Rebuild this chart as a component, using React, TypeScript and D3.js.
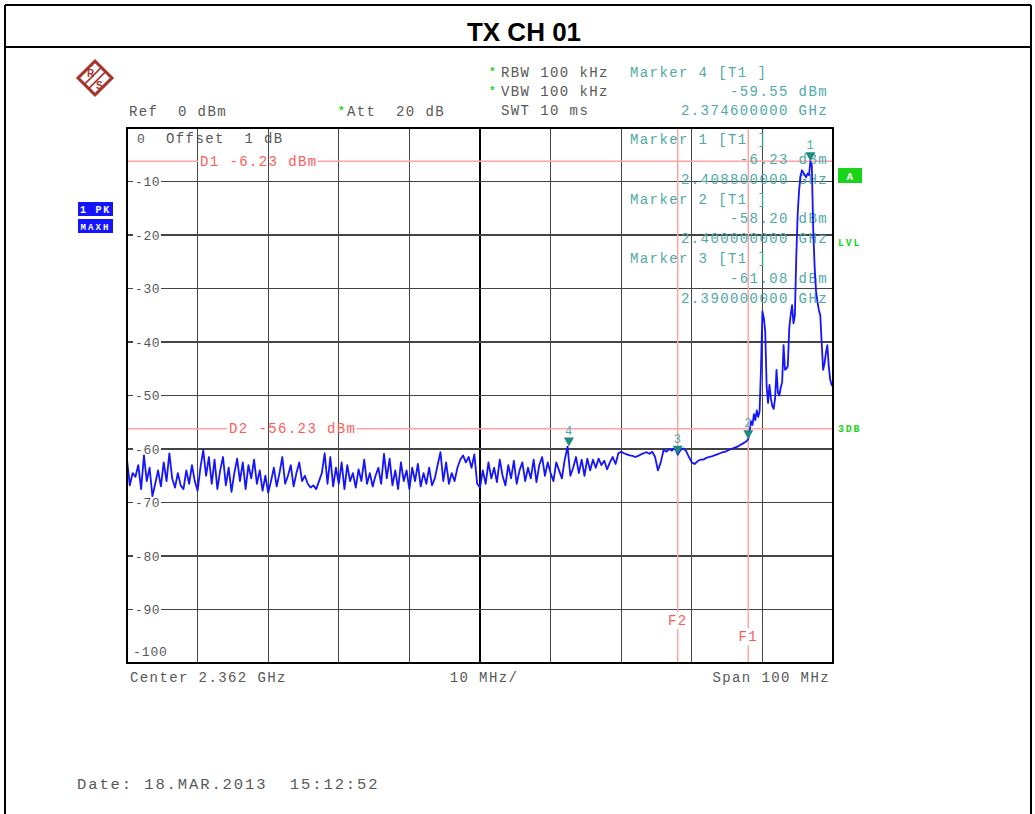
import * as d3 from "d3";

// spectrum analyzer settings
const startGHz = 2.312;
const stopGHz = 2.412;
const refDbm = 0;
const bottomDbm = -100;

// trace, noise floor part: 2.312 GHz start, 0.4 MHz step
const floorStartGHz = 2.312;
const floorStepGHz = 0.0004;
const floorLevels = [
  -62.0, -66.8, -64.5, -65.2, -63.0, -67.5, -61.2, -66.0, -63.5, -68.8,
  -66.5, -64.0, -67.0, -62.5, -66.0, -60.8, -65.5, -67.2, -64.5, -66.8,
  -67.5, -64.0, -66.5, -63.0, -66.0, -67.8, -63.5, -60.2, -65.0, -61.5,
  -66.5, -62.0, -67.5, -64.0, -61.5, -66.8, -63.5, -68.0, -64.5, -61.8,
  -66.0, -62.5, -67.5, -63.0, -65.5, -62.0, -66.5, -64.0, -67.8, -65.0,
  -68.2, -66.0, -63.5, -67.0, -64.5, -61.5, -66.5, -65.0, -63.0, -67.0,
  -64.5, -62.5, -66.0, -65.0, -66.5, -67.2, -66.8, -67.5, -66.0, -64.5,
  -60.8, -66.5, -61.5, -67.0, -63.5, -66.5, -62.5, -67.5, -63.0, -66.0,
  -64.5, -67.2, -63.8, -66.0, -62.0, -66.5, -64.5, -67.0, -65.0, -63.5,
  -66.5, -60.9, -65.5, -61.8, -66.8, -64.0, -67.5, -62.5, -66.0, -64.0,
  -67.5, -63.5, -66.0, -62.8, -67.0, -64.5, -66.5, -63.5, -66.8, -65.5,
  -63.0, -60.6, -66.0, -62.5, -66.5, -64.5, -66.0, -63.5, -62.0, -61.2,
  -62.5, -61.5, -63.5, -61.0, -66.5, -67.2, -64.0, -66.5, -62.5, -65.5,
  -63.5, -66.2, -62.0, -65.0, -66.8, -63.0, -65.5, -62.2, -66.5, -64.0,
  -62.5, -66.0, -63.5, -65.5, -62.0, -66.2, -63.0, -61.5, -65.0, -62.5,
  -64.5, -66.0, -62.5, -64.0, -65.5, -62.0, -59.55, -65.0, -63.5, -61.5,
  -64.5, -62.0, -65.0, -61.8, -64.0, -62.0, -63.5, -61.8, -63.0, -62.2,
  -63.8, -62.5, -61.5, -62.8, -60.8, -60.5, -60.8, -61.0, -61.2, -61.3,
  -61.5, -61.3, -61.0, -60.8, -60.6, -60.9, -60.5, -61.5, -64.0, -62.5,
  -60.2, -60.5, -60.0, -60.3, -59.8, -61.08, -60.2, -59.9, -60.4, -61.5,
  -62.5, -62.8, -62.3, -62.0, -62.0, -61.7, -61.5, -61.4, -61.2, -61.0,
  -60.8, -60.6, -60.5, -60.2, -60.0, -59.8, -59.6, -59.3, -59.0, -58.7, -58.2,
];

// trace, carrier part: 2.4002 GHz start, 0.2 MHz step
const signalStartGHz = 2.4002;
const signalStepGHz = 0.0002;
const signalLevels = [
  -56.5, -54.8, -55.5, -53.5, -54.6, -52.8, -54.0, -53.0, -45.0, -34.3,
  -35.5, -38.0, -48.3, -51.4, -48.0, -50.5, -52.0, -52.5, -50.5, -45.2,
  -49.5, -50.0, -48.5, -47.5, -40.6, -45.2, -45.0, -44.5, -37.5, -35.0,
  -33.1, -36.5, -35.0, -24.0, -16.0, -11.6, -9.0, -7.9, -8.3, -8.8,
  -9.2, -8.5, -8.8, -6.23, -7.0, -19.0, -26.0, -30.5, -32.5, -34.0,
  -35.0, -40.2, -45.2, -44.0, -42.0, -40.6, -44.5, -47.0, -48.0, -48.3,
];

const yTicks = [-10, -20, -30, -40, -50, -60, -70, -80, -90];
const xGrid = [2.322, 2.332, 2.342, 2.352, 2.362, 2.372, 2.382, 2.392, 2.402];

const markers = [
  { id: "1", freq: 2.4088, level: -6.23, freqText: "2.408800000 GHz", levelText: "-6.23 dBm" },
  { id: "2", freq: 2.4, level: -58.2, freqText: "2.400000000 GHz", levelText: "-58.20 dBm" },
  { id: "3", freq: 2.39, level: -61.08, freqText: "2.390000000 GHz", levelText: "-61.08 dBm" },
  { id: "4", freq: 2.3746, level: -59.55, freqText: "2.374600000 GHz", levelText: "-59.55 dBm" },
];
const displayLines = [
  { id: "D1", level: -6.23, text: "D1 -6.23 dBm", labelX: 200 },
  { id: "D2", level: -56.23, text: "D2 -56.23 dBm", labelX: 229 },
];
const freqLines = [
  { id: "F2", freq: 2.39, labelY: 625 },
  { id: "F1", freq: 2.4, labelY: 641 },
];

const GRAY = "#585858";
const TEAL = "#4fa9a6";
const RED = "#ff5a5a";
const PINK = "#ffa3a3";
const GREEN = "#19d419";
const BLUE = "#1414ff";
const CHAR = 9.8;
const FONT = "'Liberation Mono', 'DejaVu Sans Mono', monospace";

function Mono({ x, y, text, anchor = "start", fill = GRAY, adv = CHAR, size = 14, weight = 400 }: any) {
  const w = text.length * adv;
  const x0 = anchor === "end" ? x - w : anchor === "middle" ? x - w / 2 : x;
  return (
    <text
      x={x0}
      y={y}
      fill={fill}
      fontSize={size}
      fontWeight={weight}
      fontFamily={FONT}
      letterSpacing={adv - size * 0.6}
      style={{ whiteSpace: "pre" }}
    >
      {text}
    </text>
  );
}

function Star({ x, y }: { x: number; y: number }) {
  return (
    <text x={x} y={y} fill={GREEN} fontSize={11} fontFamily={FONT} fontWeight={700}>
      *
    </text>
  );
}

export default function App() {
  const x = d3.scaleLinear().domain([startGHz, stopGHz]).range([127, 833]);
  const y = d3.scaleLinear().domain([refDbm, bottomDbm]).range([128, 663]);

  const trace: [number, number][] = [
    ...floorLevels.map((v, i) => [floorStartGHz + i * floorStepGHz, v] as [number, number]),
    ...signalLevels.map((v, i) => [signalStartGHz + i * signalStepGHz, v] as [number, number]),
  ];
  const line = d3
    .line<[number, number]>()
    .x((d) => x(d[0]))
    .y((d) => y(d[1]));

  const [x0, x1] = x.range();
  const [y0, y1] = y.range();

  return (
    <div style={{ position: "absolute", left: 0, top: 0 }}>
      <svg width={1035} height={814} style={{ display: "block", background: "#fff" }}>
        {/* page frame */}
        <g stroke="#000" strokeWidth={2} fill="none">
          <line x1={5} y1={5} x2={1031} y2={5} />
          <line x1={5} y1={5} x2={5} y2={814} />
          <line x1={1031} y1={5} x2={1031} y2={814} />
          <line x1={5} y1={47} x2={1031} y2={47} />
        </g>
        <text
          x={524}
          y={41}
          textAnchor="middle"
          fontFamily="'Liberation Sans', Arial, sans-serif"
          fontWeight={700}
          fontSize={26}
          fill="#000"
        >
          TX CH 01
        </text>

        {/* R&S logo */}
        <g transform="translate(95,78) rotate(45)" stroke="#a8322c" fill="none">
          <rect x={-12} y={-12} width={24} height={24} strokeWidth={3} />
          <line x1={-3} y1={-12} x2={-3} y2={12} strokeWidth={1.6} />
          <line x1={3} y1={-12} x2={3} y2={12} strokeWidth={1.6} />
        </g>
        <text x={87} y={77} fontSize={10} fill="#a8322c" fontFamily="'Liberation Sans', sans-serif" fontWeight={700}>R</text>
        <text x={96} y={89} fontSize={10} fill="#a8322c" fontFamily="'Liberation Sans', sans-serif" fontWeight={700}>S</text>

        {/* header */}
        <Star x={489} y={75} />
        <Mono x={501} y={77} text="RBW 100 kHz" />
        <Star x={489} y={94} />
        <Mono x={501} y={96} text="VBW 100 kHz" />
        <Mono x={501} y={115} text="SWT 10 ms" />
        <Mono x={129} y={116} text="Ref  0 dBm" />
        <Star x={338} y={114} />
        <Mono x={347} y={116} text="Att  20 dB" />
        <Mono x={630} y={77} text="Marker 4 [T1 ]" fill={TEAL} />
        <Mono x={828} y={96} text={markers[3].levelText} anchor="end" fill={TEAL} />
        <Mono x={828} y={115} text={markers[3].freqText} anchor="end" fill={TEAL} />

        {/* side annotations */}
        <rect x={78} y={202} width={35} height={14} fill={BLUE} />
        <Mono x={95.5} y={213} text="1 PK" anchor="middle" fill="#fff" size={10} adv={7.8} weight={700} />
        <rect x={78} y={219} width={35} height={14} fill={BLUE} />
        <Mono x={95.5} y={230} text="MAXH" anchor="middle" fill="#fff" size={9} adv={7.5} weight={700} />
        <rect x={838} y={168} width={24} height={15} fill={GREEN} />
        <Mono x={850} y={180} text="A" anchor="middle" fill="#fff" size={11} adv={7} weight={700} />
        <Mono x={838} y={246} text="LVL" fill={GREEN} size={10} adv={7.8} weight={700} />
        <Mono x={838} y={432} text="3DB" fill={GREEN} size={10} adv={7.8} weight={700} />

        {/* grid */}
        <g stroke="#444" strokeWidth={1.2} shapeRendering="crispEdges">
          {xGrid.map((f) => (
            <line key={f} x1={x(f)} x2={x(f)} y1={y0} y2={y1} strokeWidth={f === 2.362 ? 2 : 1.2} stroke={f === 2.362 ? "#000" : "#444"} />
          ))}
          {yTicks.map((t) => (
            <g key={t}>
              <line x1={x0} x2={133} y1={y(t)} y2={y(t)} />
              <line x1={161} x2={x1} y1={y(t)} y2={y(t)} />
            </g>
          ))}
        </g>
        {yTicks.map((t) => (
          <Mono key={t} x={135} y={y(t) + 4.5} text={String(t)} adv={8.4} size={13} />
        ))}
        <Mono x={137} y={143} text="0" adv={8.4} size={13} />
        <Mono x={133} y={656} text="-100" adv={8.7} size={13} />
        <Mono x={166} y={143} text="Offset  1 dB" />

        {/* display lines */}
        {displayLines.map((d) => {
          const w = d.text.length * CHAR;
          return (
            <g key={d.id}>
              <line x1={x0} x2={d.labelX - 2} y1={y(d.level)} y2={y(d.level)} stroke={PINK} strokeWidth={1.5} />
              <line x1={d.labelX + w} x2={x1} y1={y(d.level)} y2={y(d.level)} stroke={PINK} strokeWidth={1.5} />
              <Mono x={d.labelX} y={y(d.level) + 4.5} text={d.text} fill={RED} />
            </g>
          );
        })}
        {freqLines.map((f) => (
          <g key={f.id}>
            <line x1={x(f.freq)} x2={x(f.freq)} y1={y0} y2={f.labelY - 13} stroke={PINK} strokeWidth={1.5} />
            <line x1={x(f.freq)} x2={x(f.freq)} y1={f.labelY + 4} y2={y1} stroke={PINK} strokeWidth={1.5} />
            <Mono x={x(f.freq)} y={f.labelY} text={f.id} anchor="middle" fill={RED} />
          </g>
        ))}

        {/* marker table */}
        {markers.slice(0, 3).map((m, i) => (
          <g key={m.id}>
            <Mono x={630} y={144 + i * 59.5} text={`Marker ${m.id} [T1 ]`} fill={TEAL} />
            <Mono x={828} y={163.5 + i * 59.5} text={m.levelText} anchor="end" fill={TEAL} />
            <Mono x={828} y={183.5 + i * 59.5} text={m.freqText} anchor="end" fill={TEAL} />
          </g>
        ))}

        {/* trace */}
        <path d={line(trace) ?? ""} fill="none" stroke={BLUE} strokeWidth={1.8} strokeLinejoin="round" />

        {/* marker symbols */}
        {markers.map((m) => {
          const mx = x(m.freq);
          const my = y(m.level);
          return (
            <g key={m.id}>
              <path d={`M${mx - 5},${my - 9} L${mx + 5},${my - 9} L${mx},${my} Z`} fill="#1f8a80" />
              <Mono x={mx} y={my - 12} text={m.id} anchor="middle" fill={TEAL} size={12} adv={8} />
            </g>
          );
        })}

        {/* plot frame */}
        <rect x={x0} y={y0} width={x1 - x0} height={y1 - y0} fill="none" stroke="#000" strokeWidth={2} />

        {/* footer */}
        <Mono x={130} y={682} text="Center 2.362 GHz" />
        <Mono x={484} y={682} text="10 MHz/" anchor="middle" />
        <Mono x={830} y={682} text="Span 100 MHz" anchor="end" />
        <Mono x={77} y={789} text="Date: 18.MAR.2013  15:12:52" size={15.5} adv={11.2} />
      </svg>
    </div>
  );
}
